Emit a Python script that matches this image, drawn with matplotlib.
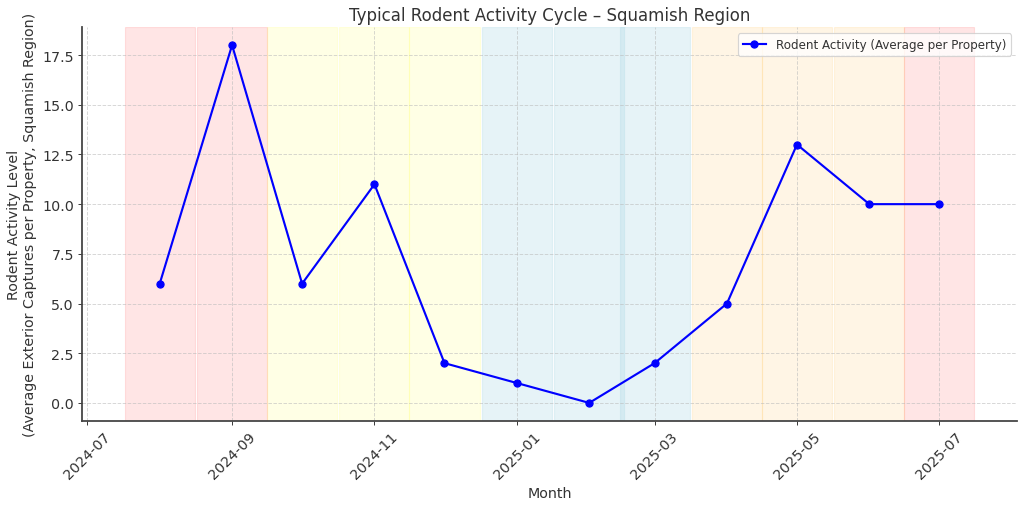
import pandas as pd
import matplotlib
matplotlib.use("Agg")
import matplotlib.pyplot as plt
import matplotlib.dates as mdates

# === DATA ===
months = pd.date_range("2024-08-01", "2025-07-01", freq="MS")
activity = [6, 18, 6, 11, 2, 1, 0, 2, 5, 13, 10, 10]

# season colour per month (Aug..Jul)
season_colors = ["red", "red", "yellow", "yellow", "yellow",
                 "lightblue", "lightblue", "lightblue",
                 "orange", "orange", "orange", "red"]
season_alpha = {"red": 0.1, "yellow": 0.1, "lightblue": 0.3, "orange": 0.1}

fig, ax = plt.subplots(figsize=(12, 5.953), dpi=85.33)

# seasonal shading, one span per month
for m, c in zip(months, season_colors):
    ax.axvspan(m - pd.Timedelta(days=15), m + pd.Timedelta(days=15),
               color=c, alpha=season_alpha[c])

ax.plot(months, activity, color="blue", marker="o", lw=1.8, ms=6,
        label="Rodent Activity (Average per Property)")

ax.set_title("Typical Rodent Activity Cycle – Squamish Region",
             fontsize=14, color="#333333")
ax.set_xlabel("Month", fontsize=12, color="#333333")
ax.set_ylabel("Rodent Activity Level\n(Average Exterior Captures per Property, Squamish Region)",
              fontsize=12, color="#333333")

ax.xaxis.set_major_locator(mdates.MonthLocator(bymonth=[1, 3, 5, 7, 9, 11]))
ax.xaxis.set_major_formatter(mdates.DateFormatter("%Y-%m"))
plt.setp(ax.get_xticklabels(), rotation=45)
ax.tick_params(labelsize=12, colors="#333333")

ax.grid(True, ls="--", color="#bbbbbb", alpha=0.6, lw=0.8)
for s in ["top", "right"]:
    ax.spines[s].set_visible(False)
for s in ["left", "bottom"]:
    ax.spines[s].set_color("#444444")
    ax.spines[s].set_linewidth(1.5)

leg = ax.legend(loc="upper right", fontsize=10)
for t in leg.get_texts():
    t.set_color("#333333")

fig.tight_layout(pad=0.6)
fig.savefig("out.png", dpi=85.33)
